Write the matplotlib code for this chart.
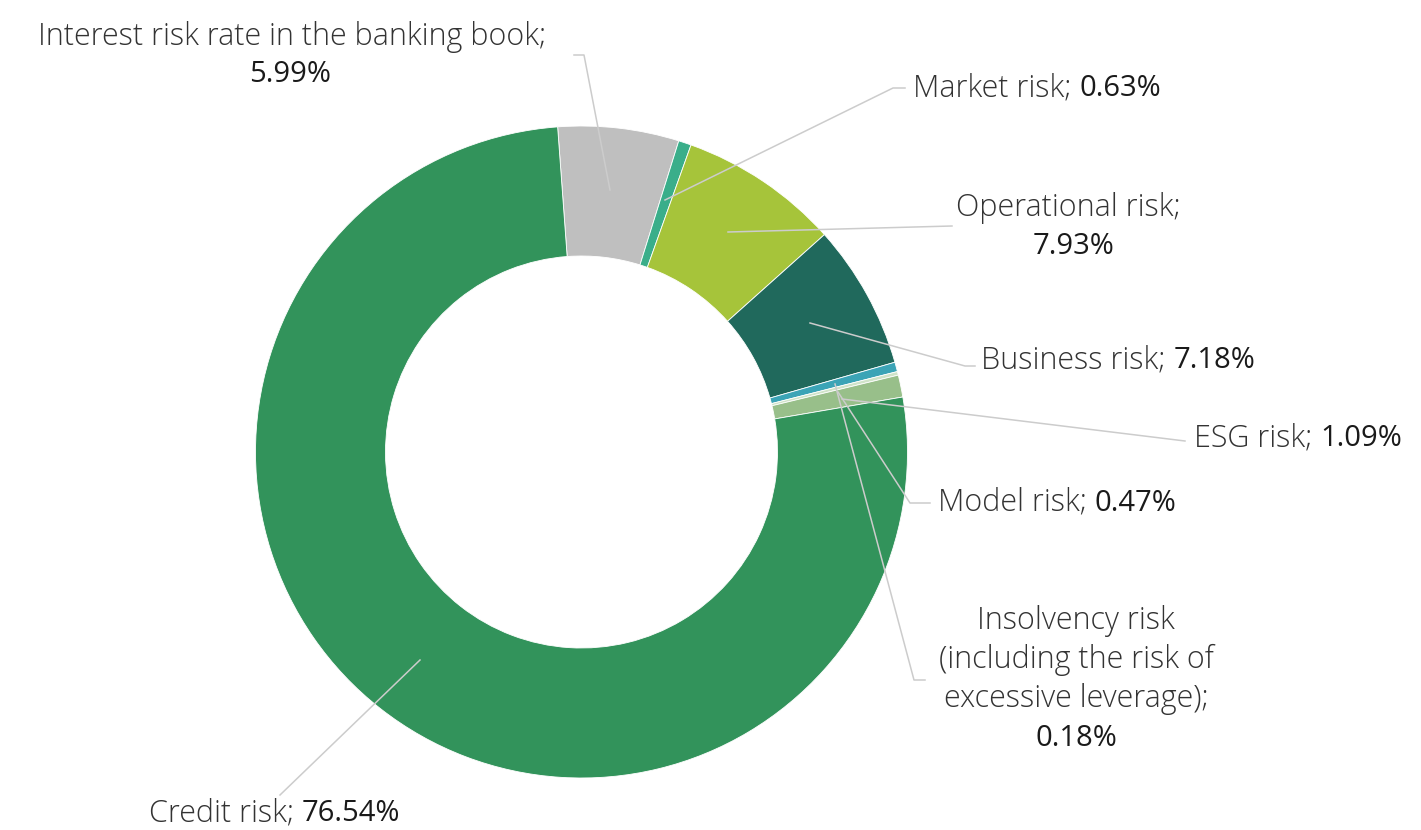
import matplotlib.pyplot as plt

# data, clockwise from the top
labels = ["Interest risk rate in the banking book", "Market risk", "Operational risk",
          "Business risk", "Model risk", "Insolvency risk", "ESG risk", "Credit risk"]
values = [5.99, 0.63, 7.93, 7.18, 0.47, 0.18, 1.09, 76.54]
colors = ["#bfbfbf", "#3aae8a", "#a6c43a", "#20695c", "#3ba4b6", "#cfe3c8", "#98bf8a", "#32935b"]

W, H = 1421, 830
fig = plt.figure(figsize=(W / 100, H / 100), dpi=100)
ax = fig.add_axes([0, 0, 1, 1])

def P(x, y):
    # pixel coords (top-left origin) -> data coords
    return x, H - y

cx, cy = P(581.5, 452)
ax.pie(values, colors=colors, startangle=94.2, counterclock=False,
       radius=326, center=(cx, cy),
       wedgeprops=dict(width=130, edgecolor="white", linewidth=0.6))
ax.set_xlim(0, W)
ax.set_ylim(0, H)
ax.set_aspect("equal")
ax.axis("off")

FONT = "Open Sans"
NAME_KW = dict(fontsize=22, family=FONT, fontweight="light", color="#333333")
NUM_KW = dict(fontsize=21, family=FONT, fontweight="normal", color="#1a1a1a")
LINE_KW = dict(color="#cccccc", lw=1.1)

fig.canvas.draw()
renderer = fig.canvas.get_renderer()

def inline_label(x, y, name, num):
    t = ax.text(*P(x, y), name + "; ", ha="left", va="center", **NAME_KW)
    bb = t.get_window_extent(renderer)
    xd = ax.transData.inverted().transform((bb.x1, 0))[0]
    ax.text(xd, H - y, num, ha="left", va="center", **NUM_KW)

def leader(pts):
    xs = [P(*p)[0] for p in pts]
    ys = [P(*p)[1] for p in pts]
    ax.plot(xs, ys, **LINE_KW)

pct = ["%.2f%%" % v for v in values]

# leader lines
leader([(610, 190), (584, 55), (574, 55)])          # interest
leader([(665, 200), (893, 88), (905, 88)])          # market
leader([(728, 232), (952, 226)])                    # operational
leader([(810, 323), (965, 366), (975, 366)])        # business
leader([(835, 384), (914, 680), (925, 680)])        # insolvency
leader([(838, 392), (910, 503), (930, 503)])        # model
leader([(842, 399), (1185, 441)])                   # esg
leader([(420, 660), (280, 795)])                    # credit

# labels
ax.text(*P(292, 37), labels[0] + ";", ha="center", va="center", **NAME_KW)
ax.text(*P(290, 75), pct[0], ha="center", va="center", **NUM_KW)
inline_label(913, 89, labels[1], pct[1])
ax.text(*P(1068, 208), labels[2] + ";", ha="center", va="center", **NAME_KW)
ax.text(*P(1074, 246), pct[2], ha="center", va="center", **NUM_KW)
inline_label(981, 361, labels[3], pct[3])
inline_label(1194, 438, labels[6], pct[6])
inline_label(938, 503, labels[4], pct[4])
ax.text(*P(1076, 621), labels[5], ha="center", va="center", **NAME_KW)
ax.text(*P(1076, 660), "(including the risk of", ha="center", va="center", **NAME_KW)
ax.text(*P(1076, 699), "excessive leverage);", ha="center", va="center", **NAME_KW)
ax.text(*P(1076, 738), pct[5], ha="center", va="center", **NUM_KW)
inline_label(149, 813, labels[7], pct[7])

fig.savefig("out.png", dpi=100, facecolor="white")
